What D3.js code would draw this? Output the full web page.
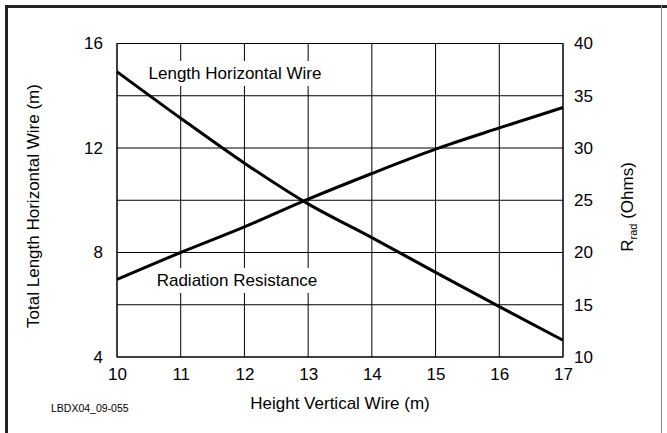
<!DOCTYPE html>
<html>
<head>
<meta charset="utf-8">
<script src="https://cdn.jsdelivr.net/npm/d3@7"></script>
<style>
  html, body { margin: 0; padding: 0; background: #fff; }
  svg { display: block; font-family: "Liberation Sans", Arial, sans-serif; }
</style>
</head>
<body>
<svg id="chart" width="667" height="433"></svg>
<script>
// Height of the vertical wire (m)
const heights = [10, 11, 12, 13, 14, 15, 16, 17];
// Total length of the horizontal wire (m), left axis
const wireLength = [14.92, 13.14, 11.42, 9.86, 8.57, 7.24, 5.93, 4.64];
// Radiation resistance (Ohms), right axis
const radResistance = [17.42, 20.0, 22.45, 25.1, 27.56, 29.89, 31.92, 33.88];

const xTicks = [10, 11, 12, 13, 14, 15, 16, 17];
const yLeftTicks = [4, 8, 12, 16];
const yRightTicks = [10, 15, 20, 25, 30, 35, 40];

const svg = d3.select("#chart");
const W = 667, H = 433;
const m = { left: 117, right: 563, top: 43.5, bottom: 357 };

// outer frame
svg.append("line").attr("x1", 6.5).attr("x2", W).attr("y1", 6.5).attr("y2", 6.5)
  .attr("stroke", "#222").attr("stroke-width", 3);
svg.append("line").attr("x1", 6.5).attr("x2", 6.5).attr("y1", 5).attr("y2", H)
  .attr("stroke", "#222").attr("stroke-width", 3);
svg.append("line").attr("x1", 661.5).attr("x2", 661.5).attr("y1", 5).attr("y2", H)
  .attr("stroke", "#888").attr("stroke-width", 1);

const x = d3.scaleLinear().domain([10, 17]).range([m.left, m.right]);
const yL = d3.scaleLinear().domain([4, 16]).range([m.bottom, m.top]);
const yR = d3.scaleLinear().domain([10, 40]).range([m.bottom, m.top]);

// grid
const grid = svg.append("g").attr("stroke", "#000").attr("stroke-width", 1);
grid.selectAll(".gx").data(xTicks).join("line")
  .attr("x1", d => x(d)).attr("x2", d => x(d))
  .attr("y1", m.top).attr("y2", m.bottom);
grid.selectAll(".gy").data(yRightTicks).join("line")
  .attr("x1", m.left).attr("x2", m.right)
  .attr("y1", d => yR(d)).attr("y2", d => yR(d));

// axes (labels only, the grid supplies the lines)
const fs = 17;
const fmt = d3.format("d");
const xAxis = d3.axisBottom(x).tickValues(xTicks).tickFormat(fmt).tickSize(0).tickPadding(11);
const gx = svg.append("g").attr("transform", `translate(0,${m.bottom})`).call(xAxis);
const yLAxis = d3.axisLeft(yL).tickValues(yLeftTicks).tickFormat(fmt).tickSize(0).tickPadding(14);
const gyl = svg.append("g").attr("transform", `translate(${m.left},0)`).call(yLAxis);
const yRAxis = d3.axisRight(yR).tickValues(yRightTicks).tickFormat(fmt).tickSize(0).tickPadding(11);
const gyr = svg.append("g").attr("transform", `translate(${m.right},0)`).call(yRAxis);
[gx, gyl, gyr].forEach(g => {
  g.attr("font-size", fs).attr("font-family", "Liberation Sans, Arial, sans-serif");
  g.select(".domain").remove();
  g.selectAll("text").attr("fill", "#000");
});

// curve labels with white backing
function boxedLabel(txt, cx, baseline) {
  const g = svg.append("g");
  const bg = g.append("rect").attr("fill", "#fff");
  const t = g.append("text").attr("x", cx).attr("y", baseline)
    .attr("text-anchor", "middle").attr("font-size", 17).attr("fill", "#000").text(txt);
  const b = t.node().getBBox();
  bg.attr("x", b.x - 4).attr("y", b.y - 3).attr("width", b.width + 8).attr("height", b.height + 6);
}
boxedLabel("Length Horizontal Wire", 235, 79);
boxedLabel("Radiation Resistance", 237, 286);

// curves
const lineL = d3.line().x((d, i) => x(heights[i])).y(d => yL(d)).curve(d3.curveMonotoneX);
const lineR = d3.line().x((d, i) => x(heights[i])).y(d => yR(d)).curve(d3.curveMonotoneX);
svg.append("path").attr("d", lineL(wireLength)).attr("fill", "none")
  .attr("stroke", "#000").attr("stroke-width", 3);
svg.append("path").attr("d", lineR(radResistance)).attr("fill", "none")
  .attr("stroke", "#000").attr("stroke-width", 3);

// plot border
svg.append("rect").attr("x", m.left).attr("y", m.top)
  .attr("width", m.right - m.left).attr("height", m.bottom - m.top)
  .attr("fill", "none").attr("stroke", "#000").attr("stroke-width", 1);

// axis titles
svg.append("text").attr("x", (m.left + m.right) / 2).attr("y", 409)
  .attr("text-anchor", "middle").attr("font-size", fs).text("Height Vertical Wire (m)");
svg.append("text").attr("transform", "translate(39,206) rotate(-90)")
  .attr("text-anchor", "middle").attr("font-size", fs).text("Total Length Horizontal Wire (m)");
const rt = svg.append("text").attr("transform", "translate(633,207) rotate(-90)")
  .attr("text-anchor", "middle").attr("font-size", fs);
rt.append("tspan").text("R");
rt.append("tspan").attr("font-size", 11).attr("dy", 4).text("rad");
rt.append("tspan").attr("dy", -4).text(" (Ohms)");

svg.append("text").attr("x", 51).attr("y", 412).attr("font-size", 10.5).text("LBDX04_09-055");
</script>
</body>
</html>
